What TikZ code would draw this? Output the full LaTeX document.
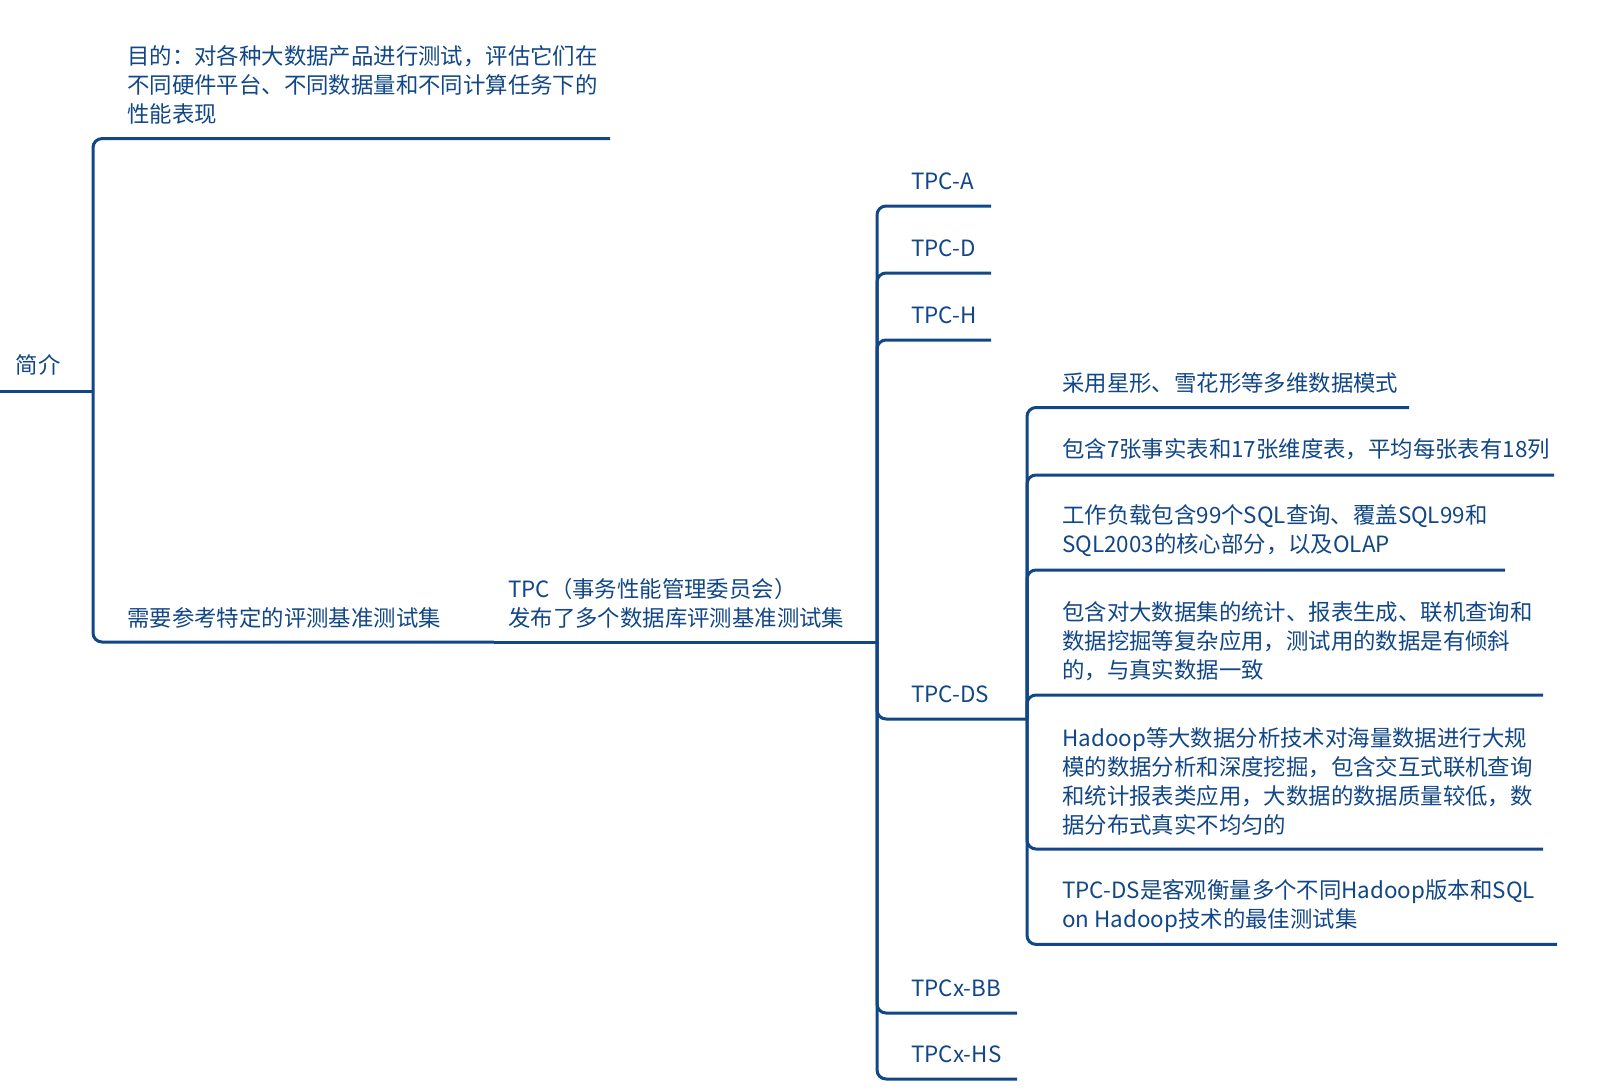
\documentclass[tikz,border=0pt]{standalone}
\usepackage{fontspec}
\setmainfont{Noto Sans CJK SC}
\definecolor{mapblue}{RGB}{17,70,135}

\begin{document}
\begin{tikzpicture}
[x=1pt,y=-1pt,%
  every node/.style={anchor=west,inner sep=0pt,align=left,text=mapblue},%
  link/.style={draw=mapblue,line width=3pt,rounded corners=9pt}]
\fontsize{22.4}{29}\selectfont
\useasboundingbox (0,0) rectangle (1622,1088);

\node (root) at (15.5,365) {简介};
\coordinate (root-w) at (0,391);
\coordinate (root-e) at (93,391);
\draw[link] (root-w) -- (root-e);

\node (purpose) at (127,85)
  {目的：对各种大数据产品进行测试，评估它们在\\不同硬件平台、不同数据量和不同计算任务下的\\性能表现};
\coordinate (purpose-e) at (610,138.6);
\node (need) at (127,617.5) {需要参考特定的评测基准测试集};
\coordinate (need-e) at (494,642);
\draw[link] (root-e) |- (purpose-e);
\draw[link] (root-e) |- (need-e);

\node (tpc) at (508,603) {TPC（事务性能管理委员会）\\发布了多个数据库评测基准测试集};
\coordinate (tpc-e) at (877,642);
\draw[link] (need-e) -- (tpc-e);

\node (tpcA) at (911,181) {TPC-A};
\coordinate (tpcA-e) at (991,206);
\node (tpcD) at (911,248) {TPC-D};
\coordinate (tpcD-e) at (991,273);
\node (tpcH) at (911,315.5) {TPC-H};
\coordinate (tpcH-e) at (991,340);
\node (tpcDS) at (911,694) {TPC-DS};
\coordinate (tpcDS-e) at (1027,719);
\node (tpcxBB) at (911,988) {TPCx-BB};
\coordinate (tpcxBB-e) at (1017,1013);
\node (tpcxHS) at (911,1054) {TPCx-HS};
\coordinate (tpcxHS-e) at (1017,1079);
\foreach \kid in {tpcA,tpcD,tpcH,tpcDS,tpcxBB,tpcxHS}
  \draw[link] (tpc-e) |- (\kid-e);

\node (ds1) at (1062,383) {采用星形、雪花形等多维数据模式};
\coordinate (ds1-e) at (1409,407.5);
\node (ds2) at (1062,449) {包含7张事实表和17张维度表，平均每张表有18列};
\coordinate (ds2-e) at (1554,475);
\node (ds3) at (1062,531)
  {工作负载包含99个SQL查询、覆盖SQL99和\\SQL2003的核心部分，以及OLAP};
\coordinate (ds3-e) at (1505,570);
\node (ds4) at (1062,641)
  {包含对大数据集的统计、报表生成、联机查询和\\数据挖掘等复杂应用，测试用的数据是有倾斜\\的，与真实数据一致};
\coordinate (ds4-e) at (1543,695);
\node (ds5) at (1062,781)
  {Hadoop等大数据分析技术对海量数据进行大规\\模的数据分析和深度挖掘，包含交互式联机查询\\和统计报表类应用，大数据的数据质量较低，数\\据分布式真实不均匀的};
\coordinate (ds5-e) at (1543,849);
\node (ds6) at (1062,905.6)
  {TPC-DS是客观衡量多个不同Hadoop版本和SQL\\on Hadoop技术的最佳测试集};
\coordinate (ds6-e) at (1557,944.4);
\foreach \kid in {ds1,ds2,ds3,ds4,ds5,ds6}
  \draw[link] (tpcDS-e) |- (\kid-e);
\end{tikzpicture}
\end{document}
